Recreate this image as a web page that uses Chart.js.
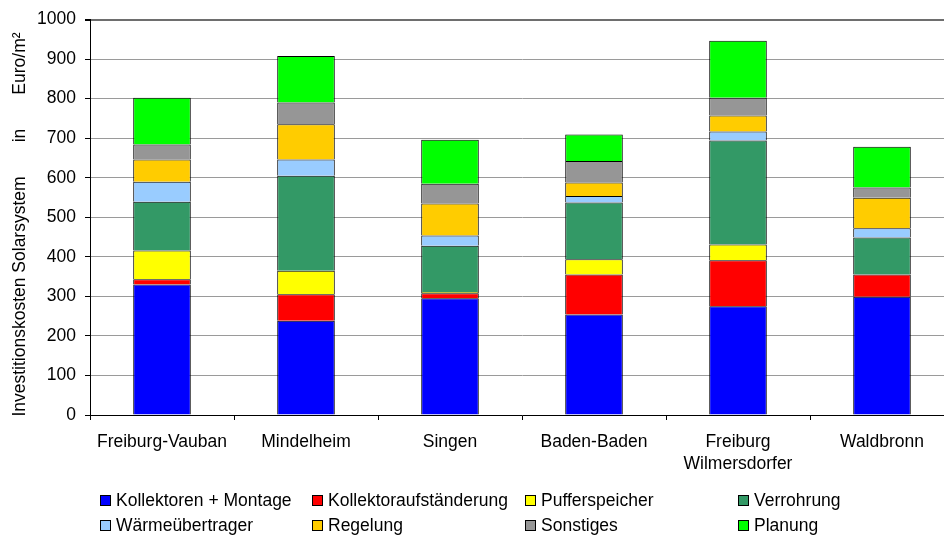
<!DOCTYPE html>
<html>
<head>
<meta charset="utf-8">
<script src="https://cdn.jsdelivr.net/npm/chart.js@4"></script>
<style>
  html, body { margin: 0; padding: 0; background: #fff; }
  #frame { position: relative; width: 944px; height: 535px; overflow: hidden; }
  #wrap { position: absolute; left: 0; top: 0; width: 960px; height: 535px; }
  #legend { position: absolute; left: 0; top: 0; width: 944px; height: 535px; pointer-events: none;
            font-family: "Liberation Sans", Arial, sans-serif; font-size: 17.5px; color: #000; }
  .item { position: absolute; display: flex; align-items: center; height: 20px; line-height: 20px; white-space: nowrap; }
  .box { width: 9px; height: 9px; border: 1px solid #000; margin-right: 5px; flex: none; }
</style>
</head>
<body>
<div id="frame">
  <div id="wrap"><canvas id="c" width="960" height="535"></canvas></div>
  <div id="legend"></div>
</div>
<script>
// Standorte (Kategorien)
const sites = ['Freiburg-Vauban', 'Mindelheim', 'Singen', 'Baden-Baden', ['Freiburg', 'Wilmersdorfer'], 'Waldbronn'];

// Kostenanteile in Euro/m² je Standort
const kollektorenMontage  = [330, 238, 295, 254, 275, 299];
const aufstaenderung      = [13, 67, 13, 101, 116, 56];
const pufferspeicher      = [73, 60, 3, 39, 40, 0];
const verrohrung          = [123, 240, 117, 143, 263, 94];
const waermeuebertrager   = [51, 41, 26, 17, 23, 23];
const regelung            = [56, 89, 81, 34, 40, 77];
const sonstiges           = [38, 55, 50, 54, 45, 26];
const planung             = [118, 118, 111, 67, 144, 103];

const seriesNames = ['Kollektoren + Montage', 'Kollektoraufständerung', 'Pufferspeicher', 'Verrohrung',
                     'Wärmeübertrager', 'Regelung', 'Sonstiges', 'Planung'];
const seriesValues = [kollektorenMontage, aufstaenderung, pufferspeicher, verrohrung,
                      waermeuebertrager, regelung, sonstiges, planung];
const seriesColors = ['#0000FF', '#FF0000', '#FFFF00', '#339966', '#99CCFF', '#FFCC00', '#969696', '#00FF00'];

// Achsenbeschriftung y
const yTicks = [0, 100, 200, 300, 400, 500, 600, 700, 800, 900, 1000];
const yTitle = 'Investitionskosten Solarsystem       in       Euro/m²   ';

const FONT = '"Liberation Sans", Arial, sans-serif';
Chart.defaults.font.family = FONT;
Chart.defaults.font.size = 17.5;
Chart.defaults.color = '#000';

const datasets = seriesNames.map((name, i) => ({
  label: name,
  data: seriesValues[i],
  backgroundColor: seriesColors[i],
  borderColor: '#000',
  borderWidth: 1,
  barPercentage: 0.4,
  categoryPercentage: 1.0
}));

const chart = new Chart(document.getElementById('c'), {
  type: 'bar',
  data: { labels: sites, datasets },
  options: {
    responsive: false,
    animation: false,
    devicePixelRatio: 1,
    layout: { padding: { top: 19, right: 6, bottom: 0, left: 0 } },
    plugins: { legend: { display: false }, tooltip: { enabled: false } },
    scales: {
      x: {
        stacked: true,
        offset: true,
        afterFit: s => { s.height = 120; },
        grid: { offset: true, drawOnChartArea: false, drawTicks: true, tickLength: 5, tickColor: '#000' },
        border: { display: true, color: '#000', width: 1 },
        ticks: { padding: 11, font: { size: 17.5, lineHeight: 1.28 }, color: '#000', maxRotation: 0, autoSkip: false }
      },
      y: {
        stacked: true,
        min: 0,
        max: 1000,
        afterFit: s => { s.width = 90; },
        afterBuildTicks: s => { s.ticks = yTicks.map(v => ({ value: v })); },
        grid: {
          color: c => (c.tick && c.tick.value === 1000 ? '#6e6e6e' : '#9a9a9a'),
          lineWidth: c => (c.tick && c.tick.value === 1000 ? 2 : 1),
          tickLength: 5,
          tickColor: '#000'
        },
        border: { display: true, color: '#000', width: 1 },
        ticks: { padding: 9, font: { size: 17.5 }, color: '#000', callback: v => String(v) },
        title: { display: true, text: yTitle, font: { size: 17.5 }, color: '#000', padding: { top: 10, bottom: 0 } }
      }
    }
  }
});

// Legende in vier Spalten, zwei Zeilen
const legendCols = [100, 312, 525, 738];
const legendRows = [490, 515];
const legendEl = document.getElementById('legend');
chart.data.datasets.forEach((ds, i) => {
  const item = document.createElement('div');
  item.className = 'item';
  item.style.left = legendCols[i % 4] + 'px';
  item.style.top = legendRows[Math.floor(i / 4)] + 'px';
  const box = document.createElement('span');
  box.className = 'box';
  box.style.background = ds.backgroundColor;
  const txt = document.createElement('span');
  txt.textContent = ds.label;
  item.appendChild(box);
  item.appendChild(txt);
  legendEl.appendChild(item);
});
</script>
</body>
</html>
